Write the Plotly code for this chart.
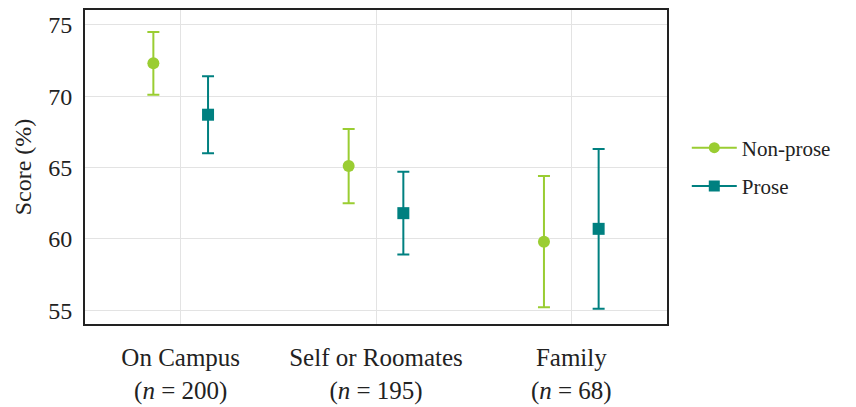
import plotly.graph_objects as go

categories = ["On Campus<br>(<i>n</i> = 200)", "Self or Roomates<br>(<i>n</i> = 195)", "Family<br>(<i>n</i> = 68)"]
series_names = ["Non-prose", "Prose"]
nonprose_mean = [72.3, 65.1, 59.8]
nonprose_err = [2.2, 2.6, 4.6]
prose_mean = [68.7, 61.8, 60.7]
prose_err = [2.7, 2.9, 5.6]
y_ticks = [55, 60, 65, 70, 75]

colors = ["#9ACD32", "#008080"]
symbols = ["circle", "square"]
offsets = [-0.14, 0.14]
means = [nonprose_mean, prose_mean]
errs = [nonprose_err, prose_err]

font_family = "Times New Roman, Liberation Serif, serif"

fig = go.Figure()
for i in range(2):
    xs = [k + offsets[i] for k in range(len(categories))]
    fig.add_trace(go.Scatter(
        x=xs, y=means[i], mode="markers", showlegend=False,
        marker=dict(color=colors[i], symbol=symbols[i], size=12),
        error_y=dict(type="data", array=errs[i], visible=True,
                     color=colors[i], thickness=2, width=6),
    ))
    fig.add_trace(go.Scatter(
        x=[None], y=[None], mode="lines+markers", name=series_names[i],
        legendgroup=series_names[i],
        line=dict(color=colors[i], width=2),
        marker=dict(color=colors[i], symbol=symbols[i], size=11),
    ))

# page body has an 8px margin, so the figure is sized/offset to compensate
fig.update_layout(
    width=848, height=399,
    margin=dict(l=77, r=189, t=0, b=83),
    paper_bgcolor="white", plot_bgcolor="white",
    font=dict(family=font_family, size=22, color="#222"),
    legend=dict(x=1.034, y=0.5, xanchor="left", yanchor="middle",
                font=dict(family=font_family, size=21), itemwidth=45, tracegroupgap=8),
    xaxis=dict(
        range=[-0.49, 2.49],
        tickmode="array", tickvals=list(range(len(categories))), ticktext=categories,
        showgrid=True, gridcolor="#e3e3e3", gridwidth=1,
        showline=True, linecolor="#222", linewidth=2, mirror=True,
        zeroline=False, ticks="outside", ticklen=10, tickcolor="rgba(0,0,0,0)",
        tickfont=dict(family=font_family, size=25),
    ),
    yaxis=dict(
        range=[54.03, 76.04],
        tickmode="array", tickvals=y_ticks,
        showgrid=True, gridcolor="#e3e3e3", gridwidth=1,
        showline=True, linecolor="#222", linewidth=2, mirror=True,
        zeroline=False, ticks="outside", ticklen=6, tickcolor="rgba(0,0,0,0)",
        title=dict(text="Score (%)", font=dict(family=font_family, size=24), standoff=10),
        tickfont=dict(family=font_family, size=24),
    ),
)

fig.write_html("out.html")
